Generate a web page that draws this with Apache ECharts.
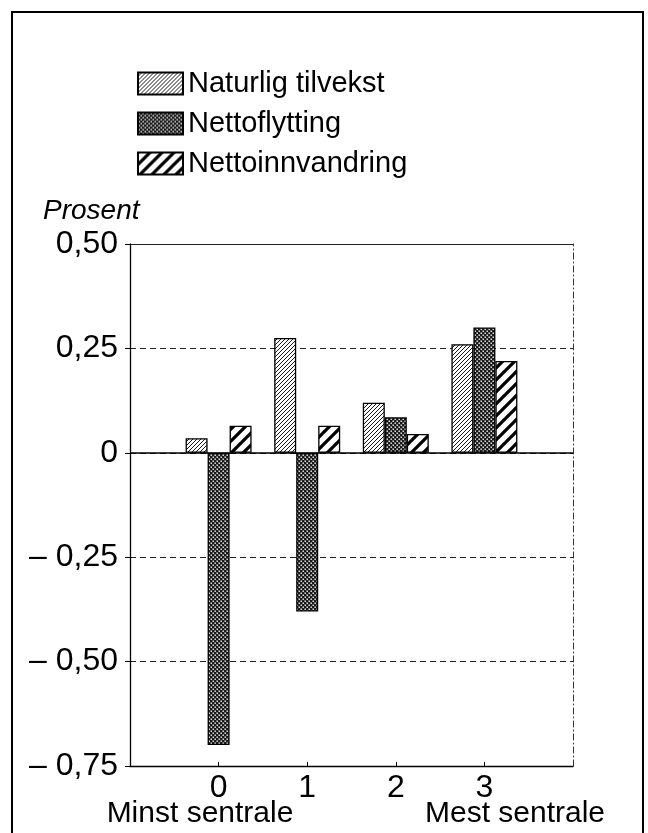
<!DOCTYPE html>
<html>
<head>
<meta charset="utf-8">
<script src="https://cdn.jsdelivr.net/npm/echarts@6/dist/echarts.min.js"></script>
<style>
html,body{margin:0;padding:0;background:#fff;}
#chart{width:648px;height:833px;}
</style>
</head>
<body>
<div id="chart"></div>
<script>
// ---- data ----
var categories = ['0', '1', '2', '3'];
var seriesNames = ['Naturlig tilvekst', 'Nettoflytting', 'Nettoinnvandring'];
var naturligTilvekst = [0.035, 0.275, 0.12, 0.26];
var nettoflytting = [-0.70, -0.38, 0.085, 0.30];
var nettoinnvandring = [0.065, 0.065, 0.045, 0.22];
var yTicks = [-0.75, -0.50, -0.25, 0, 0.25, 0.50];
var yUnit = 'Prosent';
var leftEndLabel = 'Minst sentrale';
var rightEndLabel = 'Mest sentrale';

// ---- patterns ----
function tile(w, h, draw) {
  var c = document.createElement('canvas');
  c.width = w; c.height = h;
  var g = c.getContext('2d');
  g.fillStyle = '#fff'; g.fillRect(0, 0, w, h);
  draw(g, w, h);
  return { image: c, repeat: 'repeat' };
}
function diag(g, p, lw) {
  g.strokeStyle = '#000'; g.lineWidth = lw; g.lineCap = 'square';
  for (var k = -1; k <= 1; k++) {
    g.beginPath(); g.moveTo(k * p, p); g.lineTo(k * p + p, 0); g.stroke();
  }
}
var patNat = tile(4, 4, function (g) { diag(g, 4, 0.9); });
var patFly = tile(4, 4, function (g) {
  g.fillStyle = '#1a1a1a'; g.fillRect(0, 0, 4, 4);
  g.fillStyle = '#fff';
  g.fillRect(0.5, 0.5, 1.4, 1.4);
  g.fillRect(2.5, 2.5, 1.4, 1.4);
});
var patInn = tile(12, 12, function (g) { diag(g, 12, 3.2); });
var patterns = [patNat, patFly, patInn];

function pad(arr) { return ['-'].concat(arr, ['-']); }
var cats = [''].concat(categories, ['']);
var dataSets = [naturligTilvekst, nettoflytting, nettoinnvandring];

function fmtY(v) {
  if (Math.abs(v) < 1e-9) return '0';
  return (v < 0 ? '\u2013 ' : '') + Math.abs(v).toFixed(2).replace('.', ',');
}

var FONT = 'Liberation Sans';

var series = seriesNames.map(function (name, i) {
  var s = {
    name: name,
    type: 'bar',
    data: pad(dataSets[i]),
    barWidth: 22,
    barGap: '0%',
    itemStyle: { color: patterns[i], borderColor: '#000', borderWidth: 1.3 },
    emphasis: { disabled: true },
    animation: false
  };
  if (i === 0) {
    s.markLine = {
      silent: true, symbol: 'none', animation: false,
      label: { show: false },
      lineStyle: { color: '#000', type: 'solid', width: 1.5 },
      data: [{ yAxis: 0 }]
    };
  }
  return s;
});

var chart = echarts.init(document.getElementById('chart'), null, { renderer: 'canvas' });
chart.setOption({
  animation: false,
  backgroundColor: '#fff',
  textStyle: { fontFamily: FONT, color: '#000' },
  grid: { left: 130, right: 75, top: 244, bottom: 67, containLabel: false },
  legend: {
    data: seriesNames,
    orient: 'vertical',
    left: 132, top: 64,
    itemWidth: 45, itemHeight: 22, itemGap: 11,
    icon: 'rect',
    selectedMode: false,
    textStyle: { fontSize: 29, fontFamily: FONT, color: '#000' }
  },
  xAxis: [{
    type: 'category',
    data: cats,
    boundaryGap: false,
    position: 'bottom',
    axisLine: { onZero: false, lineStyle: { color: '#000', width: 1.3 } },
    axisTick: { show: true, inside: true, length: 4, lineStyle: { color: '#000' },
      interval: function (idx, val) { return val !== ''; } },
    axisLabel: { fontSize: 32, fontFamily: FONT, color: '#000', margin: 6, interval: 0 },
    splitLine: { show: false }
  }, {
    type: 'category',
    data: cats,
    boundaryGap: false,
    position: 'top',
    axisLine: { onZero: false, lineStyle: { color: '#222', width: 1 } },
    axisTick: { show: false },
    axisLabel: { show: false },
    splitLine: { show: false }
  }],
  yAxis: [{
    type: 'value',
    min: yTicks[0], max: yTicks[yTicks.length - 1], interval: 0.25,
    axisLine: { show: true, lineStyle: { color: '#000', width: 1.3 } },
    axisTick: { show: true, length: 5, lineStyle: { color: '#000' } },
    axisLabel: { fontSize: 32, fontFamily: FONT, color: '#000', margin: 12, formatter: fmtY },
    splitLine: { show: true, lineStyle: { color: '#222', type: [6, 4], width: 1 } }
  }, {
    type: 'value',
    position: 'right',
    min: yTicks[0], max: yTicks[yTicks.length - 1], interval: 0.25,
    axisLine: { show: true, lineStyle: { color: '#333', type: [6, 3, 1, 3], width: 1 } },
    axisTick: { show: false },
    axisLabel: { show: false },
    splitLine: { show: false }
  }],
  series: series,
  graphic: [
    { type: 'rect', shape: { x: 12, y: 12, width: 631, height: 840 },
      style: { fill: 'none', stroke: '#000', lineWidth: 2 }, silent: true },
    { type: 'text', x: 43, y: 197,
      style: { text: yUnit, fontSize: 28, fontStyle: 'italic', fontFamily: FONT, fill: '#000' } },
    { type: 'text', x: 200, y: 799,
      style: { text: leftEndLabel, fontSize: 30, fontFamily: FONT, fill: '#000', align: 'center' } },
    { type: 'text', x: 515, y: 799,
      style: { text: rightEndLabel, fontSize: 30, fontFamily: FONT, fill: '#000', align: 'center' } }
  ]
});
</script>
</body>
</html>
